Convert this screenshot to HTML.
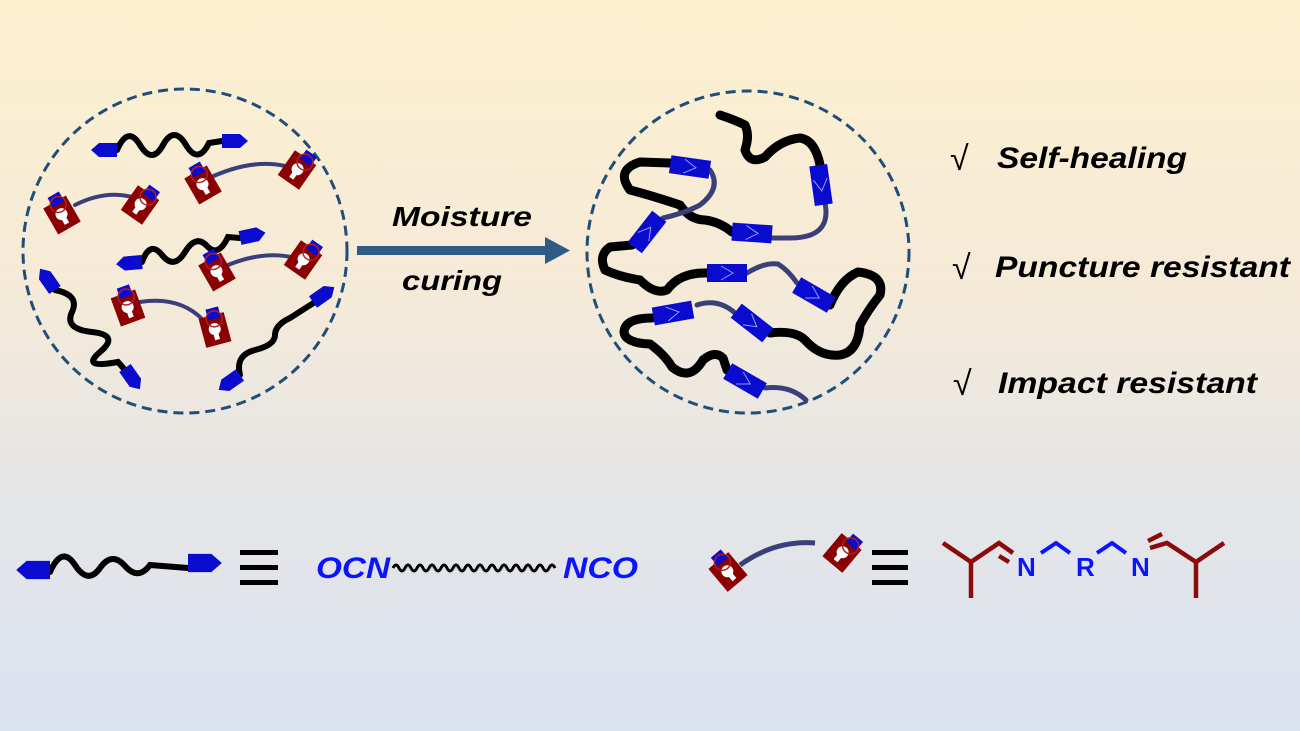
<!DOCTYPE html>
<html><head><meta charset="utf-8"><style>
html,body{margin:0;padding:0;}
body{width:1300px;height:731px;overflow:hidden;background:linear-gradient(180deg,#fdf0d0 0%,#f5ead8 40%,#e6e6e6 65%,#dbe2f0 100%);}
svg{display:block;}
text{font-family:"Liberation Sans",Arial,sans-serif;font-weight:bold;font-style:italic;}
</style></head><body>
<svg width="1300" height="731" viewBox="0 0 1300 731" xmlns="http://www.w3.org/2000/svg">
<defs>
<g id="hd"><polygon points="0,-7 18,-7 26,0 18,7 0,7" fill="#0b0bd0"/></g>
<g id="lk">
<rect x="-13" y="-15" width="26" height="30" fill="#8b0000"/>
<circle cx="0" cy="-1" r="6" fill="#fff"/><rect x="-2.5" y="2" width="5" height="8" fill="#fff"/>
<rect x="-4" y="-22" width="13" height="11" fill="#0b0bd0"/>
<circle cx="2" cy="-11" r="8" fill="none" stroke="#b02020" stroke-width="1.5"/>
</g>
<g id="bl"><rect x="-20" y="-9" width="40" height="18" fill="#0b0bd0"/><polyline points="-6,-7 6,0 -6,7" fill="none" stroke="#8fa0ff" stroke-width="1"/></g>
</defs>

<circle cx="185" cy="251" r="162" fill="none" stroke="#1f4e79" stroke-width="3" stroke-dasharray="10,6"/>
<circle cx="748" cy="252" r="161" fill="none" stroke="#1f4e79" stroke-width="3" stroke-dasharray="10,6"/>

<g fill="none" stroke-linecap="round">
<path d="M117,150 Q128,125 140,145 T163,145 T186,145 T209,143 L222,141" stroke="#000" stroke-width="6"/>
<path d="M142,262 Q150,240 162,255 T185,252 T207,246 T228,237 L240,238" stroke="#000" stroke-width="6"/>
<path d="M55,290 Q80,295 72,312 T92,332 T100,352 T118,362 L125,370" stroke="#000" stroke-width="6"/>
<path d="M240,375 Q235,355 255,350 T275,335 T290,318 L315,302" stroke="#000" stroke-width="6"/>
<path d="M205,180 Q250,158 285,166" stroke="#3a3f7a" stroke-width="4"/>
<path d="M75,205 Q105,190 132,197" stroke="#3a3f7a" stroke-width="4"/>
<path d="M228,265 Q265,250 295,258" stroke="#3a3f7a" stroke-width="4"/>
<path d="M140,302 Q180,296 203,320" stroke="#3a3f7a" stroke-width="4"/>
</g>
<use href="#hd" transform="translate(117,150) rotate(180)"/>
<use href="#hd" transform="translate(222,141)"/>
<use href="#hd" transform="translate(142,262) rotate(175)"/>
<use href="#hd" transform="translate(240,238) rotate(-12)"/>
<use href="#hd" transform="translate(55,290) rotate(-125)"/>
<use href="#hd" transform="translate(125,368) rotate(55)"/>
<use href="#hd" transform="translate(240,375) rotate(145)"/>
<use href="#hd" transform="translate(313,302) rotate(-35)"/>
<use href="#lk" transform="translate(203,185) rotate(-30)"/>
<use href="#lk" transform="translate(297,170) rotate(35)"/>
<use href="#lk" transform="translate(62,215) rotate(-30)"/>
<use href="#lk" transform="translate(140,205) rotate(35)"/>
<use href="#lk" transform="translate(217,272) rotate(-30)"/>
<use href="#lk" transform="translate(303,260) rotate(35)"/>
<use href="#lk" transform="translate(128,308) rotate(-20)"/>
<use href="#lk" transform="translate(215,330) rotate(-15)"/>

<rect x="357" y="246" width="190" height="9" fill="#2e5b85"/>
<polygon points="545,237 570,250.5 545,264" fill="#2e5b85"/>
<text x="392" y="226" font-size="28" textLength="140" lengthAdjust="spacingAndGlyphs">Moisture</text>
<text x="402" y="290" font-size="28" textLength="100" lengthAdjust="spacingAndGlyphs">curing</text>

<g fill="none" stroke-linecap="round" stroke-linejoin="round">
<path d="M720,115 Q735,120 745,125 Q750,135 745,150 Q750,165 765,157 Q780,140 800,138 Q815,140 820,165" stroke="#000" stroke-width="9"/>
<path d="M825,203 Q832,238 790,238 L772,238" stroke="#3a3f7a" stroke-width="5"/>
<path d="M732,232 Q720,222 705,220 Q690,220 680,205 Q650,195 630,190 Q615,170 640,162 L670,163" stroke="#000" stroke-width="9"/>
<path d="M710,170 Q722,188 700,205 Q685,213 663,218" stroke="#3a3f7a" stroke-width="5"/>
<path d="M632,245 L610,247 Q598,255 605,270 Q620,277 640,280 Q655,295 667,290 Q680,272 707,273" stroke="#000" stroke-width="9"/>
<path d="M747,273 Q765,262 778,264 Q788,270 797,283" stroke="#3a3f7a" stroke-width="5"/>
<path d="M830,305 Q840,280 858,272 Q885,275 880,295 Q868,310 860,325 Q858,352 840,355 Q820,357 805,340 Q795,330 770,333" stroke="#000" stroke-width="9"/>
<path d="M735,313 Q718,298 697,305" stroke="#3a3f7a" stroke-width="5"/>
<path d="M652,318 Q625,318 624,332 Q625,343 650,344 Q665,355 672,367 Q690,382 703,360 Q715,350 723,358 L727,370" stroke="#000" stroke-width="9"/>
<path d="M765,388 Q790,385 806,400" stroke="#3a3f7a" stroke-width="5"/>
</g>
<use href="#bl" transform="translate(821,185) rotate(82)"/>
<use href="#bl" transform="translate(752,233) rotate(4)"/>
<use href="#bl" transform="translate(690,167) rotate(8)"/>
<use href="#bl" transform="translate(647,232) rotate(-52)"/>
<use href="#bl" transform="translate(727,273)"/>
<use href="#bl" transform="translate(814,295) rotate(30)"/>
<use href="#bl" transform="translate(752,323) rotate(38)"/>
<use href="#bl" transform="translate(673,313) rotate(-10)"/>
<use href="#bl" transform="translate(745,381) rotate(30)"/>

<text x="950" y="170" font-size="34" style="font-style:normal;font-weight:normal">√</text>
<text x="997" y="168" font-size="30" textLength="190" lengthAdjust="spacingAndGlyphs">Self-healing</text>
<text x="952" y="279" font-size="34" style="font-style:normal;font-weight:normal">√</text>
<text x="995" y="277" font-size="30" textLength="295" lengthAdjust="spacingAndGlyphs">Puncture resistant</text>
<text x="953" y="395" font-size="34" style="font-style:normal;font-weight:normal">√</text>
<text x="998" y="393" font-size="30" textLength="259" lengthAdjust="spacingAndGlyphs">Impact resistant</text>

<path d="M50,572 Q62,545 75,565 T100,568 T125,566 T150,565 L188,568" fill="none" stroke="#000" stroke-width="6" stroke-linecap="round"/>
<use href="#hd" transform="translate(50,570) scale(1.3,1.3) rotate(180)"/>
<use href="#hd" transform="translate(188,563) scale(1.3,1.3)"/>
<g fill="#000"><rect x="240" y="550" width="38" height="5"/><rect x="240" y="565" width="38" height="5"/><rect x="240" y="580" width="38" height="5"/></g>
<text x="316" y="578" font-size="30" fill="#0a14ff" textLength="74" lengthAdjust="spacingAndGlyphs">OCN</text>
<path d="M393,568 q3,-6 6,0 q3,6 6,0 q3,-6 6,0 q3,6 6,0 q3,-6 6,0 q3,6 6,0 q3,-6 6,0 q3,6 6,0 q3,-6 6,0 q3,6 6,0 q3,-6 6,0 q3,6 6,0 q3,-6 6,0 q3,6 6,0 q3,-6 6,0 q3,6 6,0 q3,-6 6,0 q3,6 6,0 q3,-6 6,0 q3,6 6,0 q3,-6 6,0 q3,6 6,0 q3,-6 6,0 q3,6 6,0 q3,-6 6,0 q3,6 6,0 q3,-6 6,0" fill="none" stroke="#000" stroke-width="3"/>
<text x="563" y="578" font-size="30" fill="#0a14ff" textLength="75" lengthAdjust="spacingAndGlyphs">NCO</text>

<path d="M740,565 Q775,540 815,543" fill="none" stroke="#3a3f7a" stroke-width="5"/>
<use href="#lk" transform="translate(728,572) rotate(-40)"/>
<use href="#lk" transform="translate(842,553) rotate(40)"/>
<g fill="#000"><rect x="872" y="550" width="36" height="5"/><rect x="872" y="565" width="36" height="5"/><rect x="872" y="580" width="36" height="5"/></g>
<g fill="none" stroke="#8b0a0a" stroke-width="4.5">
<polyline points="943,543 971,562 999,543 1013,553"/>
<line x1="971" y1="562" x2="971" y2="598"/>
<line x1="999" y1="556" x2="1009" y2="562"/>
<polyline points="1150,548 1167,543 1196,562 1224,543"/>
<line x1="1196" y1="562" x2="1196" y2="598"/>
<line x1="1148" y1="541" x2="1162" y2="534"/>
</g>
<g fill="none" stroke="#0a14ff" stroke-width="4">
<polyline points="1041,553 1056,543 1070,553"/>
<polyline points="1097,553 1112,543 1126,553"/>
</g>
<text x="1017" y="576" font-size="26" style="font-style:normal" fill="#0a14ff">N</text>
<text x="1076" y="576" font-size="26" style="font-style:normal" fill="#0a14ff">R</text>
<text x="1131" y="576" font-size="26" style="font-style:normal" fill="#0a14ff">N</text>
</svg>
</body></html>
